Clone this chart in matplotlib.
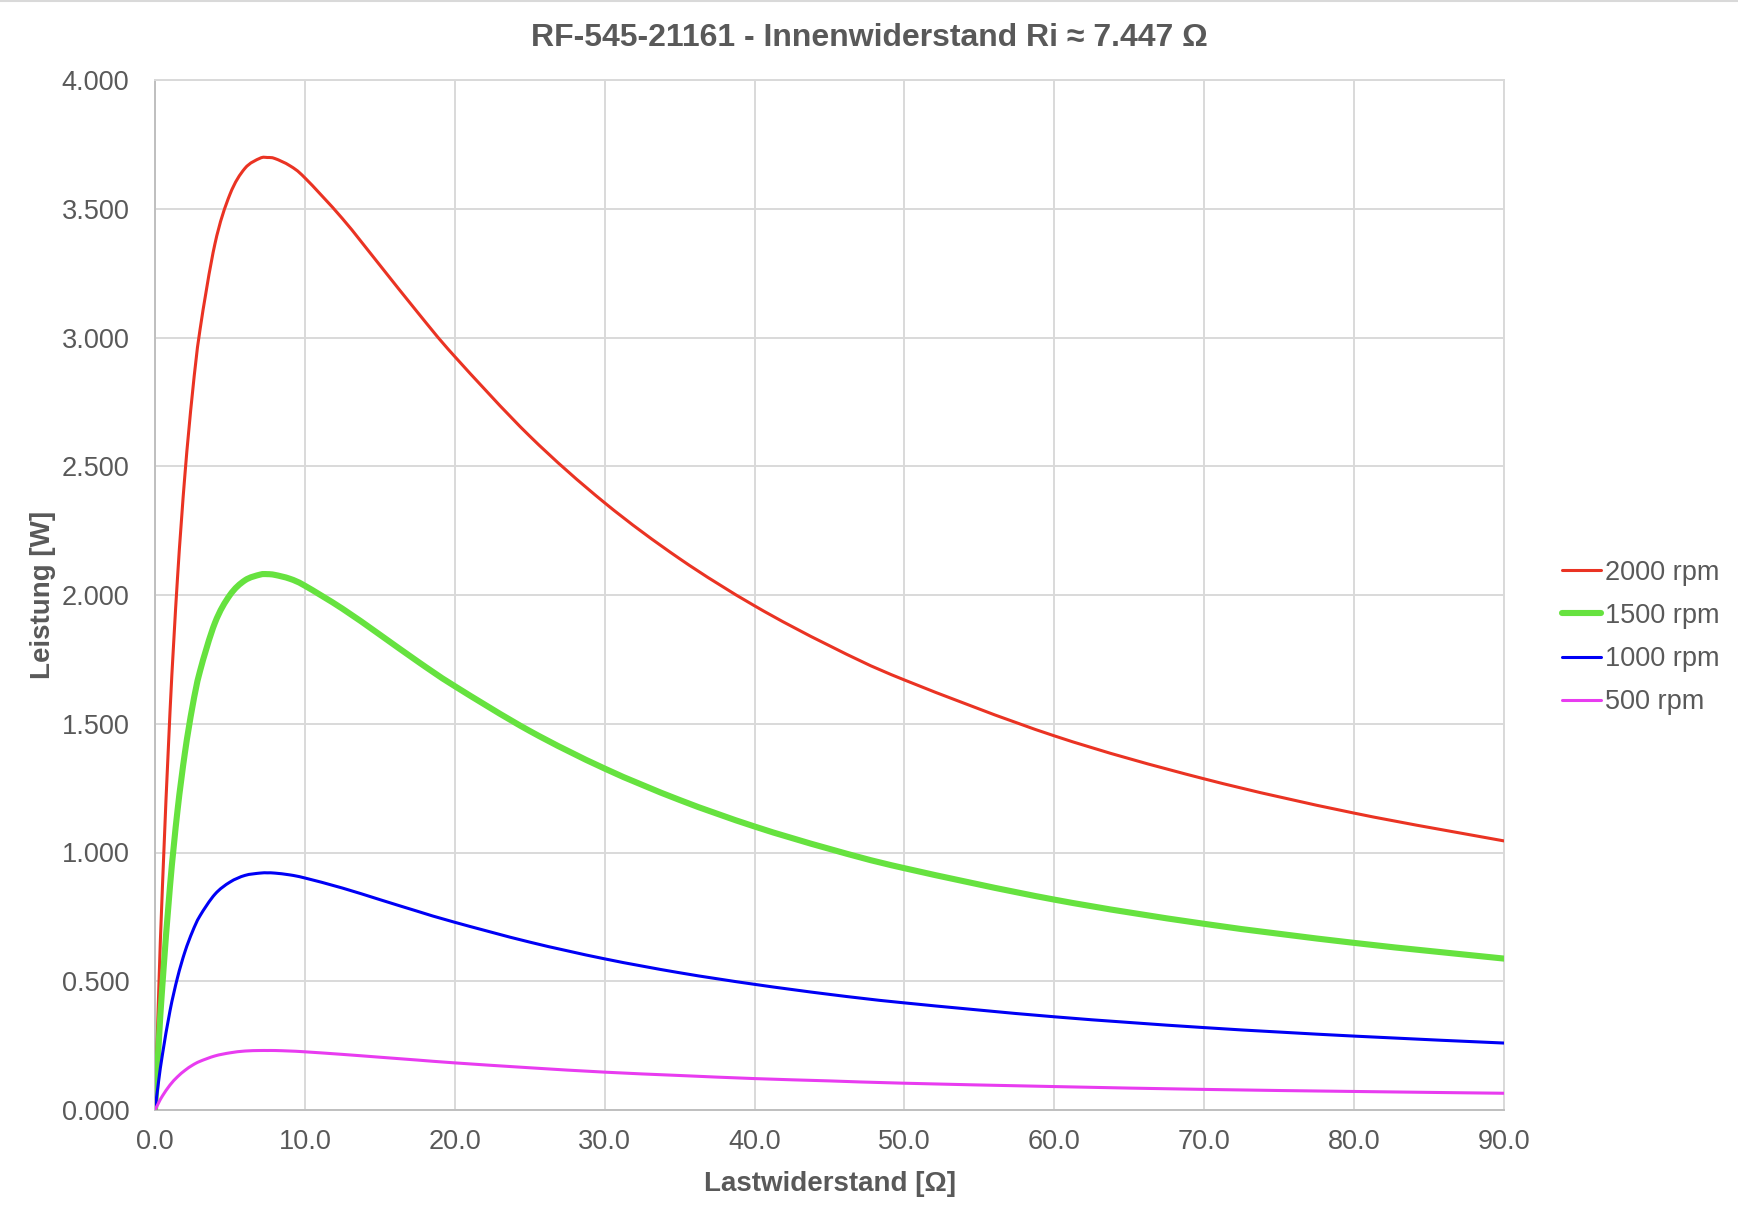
import matplotlib
matplotlib.use("Agg")
import matplotlib.pyplot as plt
import numpy as np
from matplotlib.lines import Line2D
from matplotlib.patches import PathPatch
from matplotlib.path import Path
from matplotlib.ticker import FormatStrFormatter, MultipleLocator


# Data -------------------------------------------------------------------

r_load = [0, 0.25, 0.5, 1, 1.5, 2, 2.5, 3, 4, 5, 6, 7, 7.5, 8, 9, 10,
          12.5, 15, 17.5, 20, 25, 30, 35, 40, 45, 50, 60, 70, 80, 90]

p_2000 = [0, 0.465, 0.873, 1.545, 2.065, 2.470, 2.785, 3.029, 3.364, 3.556,
          3.657, 3.696, 3.699, 3.695, 3.667, 3.620, 3.462, 3.281, 3.099, 2.926,
          2.617, 2.358, 2.141, 1.958, 1.803, 1.670, 1.453, 1.286, 1.153, 1.045]

p_1500 = [0, 0.262, 0.491, 0.869, 1.162, 1.389, 1.567, 1.704, 1.892, 2.000,
          2.057, 2.079, 2.081, 2.078, 2.063, 2.036, 1.947, 1.846, 1.743, 1.646,
          1.472, 1.326, 1.204, 1.101, 1.014, 0.939, 0.817, 0.723, 0.649, 0.588]

p_1000 = [0, 0.116, 0.217, 0.385, 0.514, 0.615, 0.693, 0.754, 0.838, 0.885,
          0.911, 0.920, 0.921, 0.920, 0.913, 0.901, 0.862, 0.817, 0.772, 0.729,
          0.652, 0.587, 0.533, 0.488, 0.449, 0.416, 0.362, 0.320, 0.287, 0.260]

p_500 = [0, 0.029, 0.055, 0.097, 0.129, 0.154, 0.174, 0.189, 0.210, 0.222,
         0.229, 0.231, 0.231, 0.231, 0.229, 0.226, 0.216, 0.205, 0.194, 0.183,
         0.164, 0.147, 0.134, 0.122, 0.113, 0.104, 0.091, 0.080, 0.072, 0.065]

series = [
    ("2000 rpm", p_2000, "#ea3323", 2.2),
    ("1500 rpm", p_1500, "#66e23f", 4.4),
    ("1000 rpm", p_1000, "#0000f5", 2.2),
    ("500 rpm", p_500, "#e83cf0", 2.2),
]

title = "RF-545-21161 - Innenwiderstand Ri \u2248 7.447 \u03a9"
xlabel = "Lastwiderstand [\u03a9]"
ylabel = "Leistung [W]"

# Styles ------------------------------------------------------------------

W, H = 1738, 1214
text_grey = "#595959"
grid_grey = "#d9d9d9"
spine_grey = "#bfbfbf"
plt.rcParams["font.family"] = ["Liberation Sans", "DejaVu Sans"]


def smooth_path(x, y):
    # spreadsheet-style smoothed line: Bezier segments through the data points
    pts = np.column_stack([x, y]).astype(float)
    n = len(pts)
    verts = [pts[0]]
    codes = [Path.MOVETO]
    for i in range(n - 1):
        p0 = pts[i - 1] if i > 0 else pts[i]
        p1 = pts[i]
        p2 = pts[i + 1]
        p3 = pts[i + 2] if i + 2 < n else pts[i + 1]
        verts += [p1 + (p2 - p0) / 6.0, p2 - (p3 - p1) / 6.0, p2]
        codes += [Path.CURVE4] * 3
    return Path(verts, codes)


fig = plt.figure(figsize=(W / 100, H / 100), dpi=100)
ax = fig.add_axes([155 / W, 1 - 1110 / H, (1504 - 155) / W, (1110 - 80) / H])

handles = []
for label, vals, col, lw in series:
    patch = PathPatch(smooth_path(r_load, vals), facecolor="none", edgecolor=col,
                      lw=lw, capstyle="round", joinstyle="round", zorder=3)
    ax.add_patch(patch)
    handles.append(Line2D([], [], color=col, lw=lw, solid_capstyle="round", label=label))

ax.set_xlim(0, 90)
ax.set_ylim(0, 4)
ax.xaxis.set_major_locator(MultipleLocator(10))
ax.yaxis.set_major_locator(MultipleLocator(0.5))
ax.xaxis.set_major_formatter(FormatStrFormatter("%.1f"))
ax.yaxis.set_major_formatter(FormatStrFormatter("%.3f"))

ax.grid(True, color=grid_grey, lw=1.4, zorder=0)
ax.set_axisbelow(True)
for side in ["top", "right"]:
    ax.spines[side].set_color(grid_grey)
    ax.spines[side].set_linewidth(1.4)
for side in ["left", "bottom"]:
    ax.spines[side].set_color(spine_grey)
    ax.spines[side].set_linewidth(1.4)

ax.tick_params(axis="both", length=0, labelsize=19.5, labelcolor=text_grey)
ax.tick_params(axis="y", pad=18.5)
ax.tick_params(axis="x", pad=14)

fig.text(0.5, 1 - 46 / H, title, ha="center", va="baseline",
         fontsize=23, fontweight="bold", color=text_grey)
fig.text(829.5 / W, 1 - 1191 / H, xlabel, ha="center", va="baseline",
         fontsize=20, fontweight="bold", color=text_grey)
fig.text(43 / W, 1 - 595 / H, ylabel, ha="center", va="center", rotation=90,
         fontsize=20, fontweight="bold", color=text_grey)

ax.legend(handles=handles, loc="center left", bbox_to_anchor=(1562 / W, 1 - 637.5 / H),
          bbox_transform=fig.transFigure, frameon=False, fontsize=19.5,
          labelcolor=text_grey, handlelength=1.45, handletextpad=0.15,
          labelspacing=0.63, borderpad=0, borderaxespad=0)

# thin border line along the top of the image
fig.add_artist(Line2D([0, 1], [1 - 1 / H, 1 - 1 / H], color=grid_grey, lw=1.5,
                      transform=fig.transFigure))

fig.savefig("out.png", dpi=100)
